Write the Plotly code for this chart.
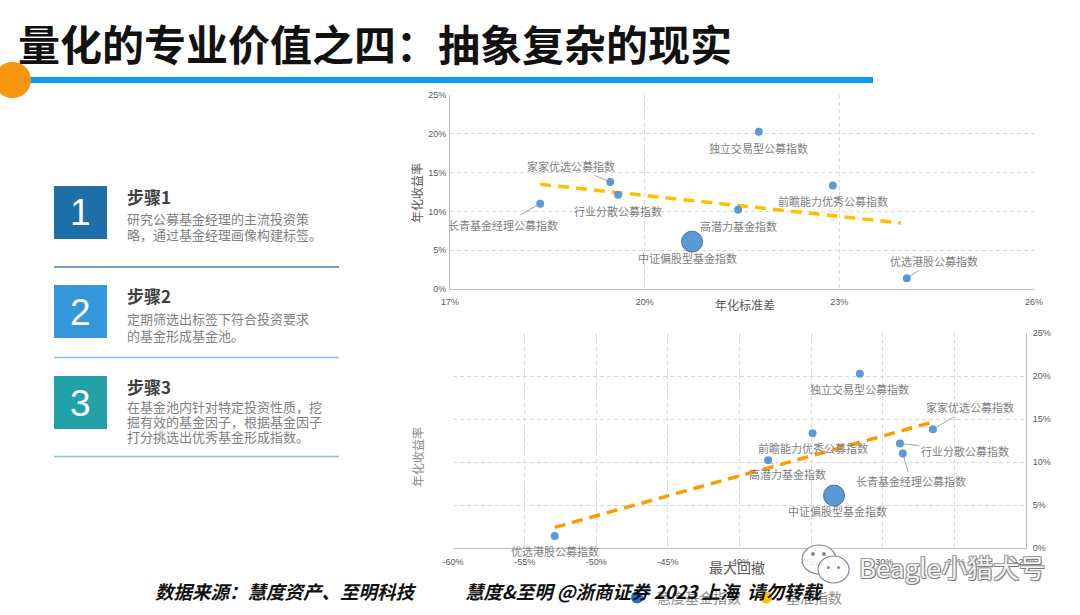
import plotly.graph_objects as go

# ---------------- data ----------------
index_names = ["长青基金经理公募指数", "家家优选公募指数", "行业分散公募指数", "独立交易型公募指数",
               "高潜力基金指数", "前瞻能力优秀公募指数", "优选港股公募指数"]
ann_std = [18.39, 19.47, 19.59, 21.76, 21.44, 22.90, 24.04]      # 年化标准差 (%)
ann_ret = [11.0, 13.8, 12.15, 20.25, 10.2, 13.35, 1.4]           # 年化收益率 (%)
max_dd = [-28.6, -26.5, -28.8, -31.6, -38.0, -34.9, -52.9]       # 最大回撤 (%)

bench_name = "中证偏股型基金指数"
bench_std = [20.73]
bench_ret = [6.1]
bench_dd = [-33.4]

trend_top_x = [18.39, 23.95]
trend_top_y = [13.5, 8.5]
trend_bot_x = [-52.9, -26.5]
trend_bot_y = [2.4, 14.65]

top_x_ticks = [17, 20, 23, 26]
ret_ticks = [0, 5, 10, 15, 20, 25]
dd_ticks = [-60, -55, -50, -45, -40, -35, -30, -25, -20]

legend_names = ["慧度基金指数", "基准指数"]

title_text = "量化的专业价值之四：抽象复杂的现实"
steps = [
    ("1", "步骤1", ["研究公募基金经理的主流投资策", "略，通过基金经理画像构建标签。"]),
    ("2", "步骤2", ["定期筛选出标签下符合投资要求", "的基金形成基金池。"]),
    ("3", "步骤3", ["在基金池内针对特定投资性质，挖", "掘有效的基金因子，根据基金因子", "打分挑选出优秀基金形成指数。"]),
]
footer_a = "数据来源：慧度资产、至明科技"
footer_b = "慧度&至明 @浙商证券 2023 上海  请勿转载"
watermark = "Beagle小猎犬号"

# ---------------- helpers ----------------
W, H = 1080, 615
def px(x): return x / W
def py(y): return 1 - y / H

CJK = "Noto Sans CJK SC"
LBL = "#7f7f7f"
PT = "#5B9BD5"

fig = go.Figure()

# top chart
fig.add_trace(go.Scatter(x=trend_top_x, y=trend_top_y, mode="lines", xaxis="x", yaxis="y",
                         line=dict(color="#FFC000", width=3.5, dash="11px,7px"), showlegend=False, hoverinfo="skip"))
fig.add_trace(go.Scatter(x=ann_std, y=ann_ret, mode="markers", xaxis="x", yaxis="y",
                         marker=dict(color=PT, size=8), showlegend=False, text=index_names))
fig.add_trace(go.Scatter(x=bench_std, y=bench_ret, mode="markers", xaxis="x", yaxis="y",
                         marker=dict(color=PT, size=21, line=dict(color="#41719C", width=1)),
                         showlegend=False, text=[bench_name]))
# bottom chart
fig.add_trace(go.Scatter(x=trend_bot_x, y=trend_bot_y, mode="lines", xaxis="x2", yaxis="y2",
                         line=dict(color="#FF9A00", width=3.5, dash="11px,7px"), showlegend=False, hoverinfo="skip"))
fig.add_trace(go.Scatter(x=max_dd, y=ann_ret, mode="markers", xaxis="x2", yaxis="y2",
                         marker=dict(color=PT, size=8), showlegend=False, text=index_names))
fig.add_trace(go.Scatter(x=bench_dd, y=bench_ret, mode="markers", xaxis="x2", yaxis="y2",
                         marker=dict(color=PT, size=21, line=dict(color="#41719C", width=1)),
                         showlegend=False, text=[bench_name]))
# legend entries
fig.add_trace(go.Scatter(x=[None], y=[None], mode="markers", xaxis="x2", yaxis="y2", name=legend_names[0],
                         marker=dict(color="#1F6FC5", size=12)))
fig.add_trace(go.Scatter(x=[None], y=[None], mode="markers", xaxis="x2", yaxis="y2", name=legend_names[1],
                         marker=dict(color="#FFC000", size=12)))

axis_common = dict(showgrid=True, gridcolor="#d9d9d9", griddash="4px,3px", gridwidth=1,
                   showline=True, linecolor="#bfbfbf", linewidth=1, zeroline=False, ticks="",
                   automargin=False,
                   tickfont=dict(family="Liberation Sans", size=9, color="#595959"))

fig.update_layout(
    template="none",
    width=W, height=H, margin=dict(l=0, r=0, t=0, b=0, autoexpand=False),
    paper_bgcolor="white", plot_bgcolor="white",
    xaxis=dict(domain=[px(450), px(1034)], range=[17, 26], anchor="y", ticklabelstandoff=4,
               tickvals=top_x_ticks, ticktext=[f"{v}%" for v in top_x_ticks], **axis_common),
    yaxis=dict(domain=[py(289), py(95)], range=[0, 25], anchor="x", ticklabelstandoff=1,
               tickvals=ret_ticks, ticktext=[f"{v}%" for v in ret_ticks], **axis_common),
    xaxis2=dict(domain=[px(453), px(1026)], range=[-60, -20], anchor="y2", ticklabelstandoff=5,
                tickvals=dd_ticks, ticktext=[f"{v}%" for v in dd_ticks], **axis_common),
    yaxis2=dict(domain=[py(548), py(333)], range=[0, 25], anchor="x2", side="right", ticklabelstandoff=4,
                tickvals=ret_ticks, ticktext=[f"{v}%" for v in ret_ticks], **axis_common),
    legend=dict(orientation="h", x=px(617), y=py(598), xanchor="left", yanchor="middle",
                font=dict(family=CJK, size=14, color="#8c8c8c"), bgcolor="rgba(0,0,0,0)",
                itemwidth=30),
    showlegend=True,
)

anns = []
# point labels: (dx, dy) screen offsets of label center from point, arrow flag
top_lbl = {
    "长青基金经理公募指数": (-37, 21, True),
    "家家优选公募指数": (-39, -16, True),
    "行业分散公募指数": (0, 16, False),
    "独立交易型公募指数": (0, 16, False),
    "高潜力基金指数": (0, 16, False),
    "前瞻能力优秀公募指数": (0, 16, False),
    "优选港股公募指数": (27, -17, True),
    bench_name: (-5, 16, False),
}
bot_lbl = {
    "长青基金经理公募指数": (8, 28, True),
    "家家优选公募指数": (37, -22, True),
    "行业分散公募指数": (65, 7, True),
    "独立交易型公募指数": (0, 15, False),
    "高潜力基金指数": (19, 14, True),
    "前瞻能力优秀公募指数": (0, 15, False),
    "优选港股公募指数": (0, 15, False),
    bench_name: (3, 15, False),
}

def add_labels(names, xs, ys, offsets, xr, yr):
    for n, x, y in zip(names, xs, ys):
        dx, dy, arrow = offsets[n]
        base = dict(x=x, y=y, xref=xr, yref=yr, text=n, xanchor="center", yanchor="middle",
                    font=dict(family=CJK, size=11, color=LBL))
        if arrow:
            base.update(showarrow=True, arrowhead=0, arrowwidth=1, arrowcolor="#a6a6a6",
                        ax=dx, ay=dy, standoff=4)
        else:
            base.update(showarrow=False, xshift=dx, yshift=-dy)
        anns.append(base)

add_labels(index_names + [bench_name], ann_std + bench_std, ann_ret + bench_ret, top_lbl, "x", "y")
add_labels(index_names + [bench_name], max_dd + bench_dd, ann_ret + bench_ret, bot_lbl, "x2", "y2")

def note(x, y, text, size, color, xanchor="center", angle=0, family=CJK, shadow=None):
    f = dict(family=family, size=size, color=color)
    if shadow:
        f["shadow"] = shadow
    anns.append(dict(x=px(x), y=py(y), xref="paper", yref="paper", text=text, showarrow=False,
                     xanchor=xanchor, yanchor="middle", textangle=angle, font=f))

# axis titles
note(416, 193, "年化收益率", 12, "#595959", angle=-90)
note(745, 305, "年化标准差", 12, "#595959")
note(417, 457, "年化收益率", 12, "#8c8c8c", angle=-90)
note(737, 567, "最大回撤", 14, "#595959")

# title
note(16, 42, f"<b>{title_text}</b>", 42, "#111111", xanchor="left")

shapes = [
    dict(type="rect", xref="paper", yref="paper", x0=px(20), x1=px(873), y0=py(83), y1=py(77),
         fillcolor="#0A9CF5", line=dict(width=0)),
    dict(type="circle", xref="paper", yref="paper", x0=px(-6), x1=px(31), y0=py(98), y1=py(62),
         fillcolor="#F8950F", line=dict(width=0)),
]

box_tops = [186, 285, 376]
box_colors = ["#1E6EA7", "#3597DB", "#22A2A8"]
sep_y = [267, 357.5, 456.5]
sep_colors = ["#4A7DAA", "#8DBDE0", "#8DBDE0"]
desc_y = [[218, 235], [318, 335], [406, 421, 436]]
for i, (num, head, lines) in enumerate(steps):
    t = box_tops[i]
    shapes.append(dict(type="rect", xref="paper", yref="paper", x0=px(54), x1=px(107), y0=py(t + 53), y1=py(t),
                       fillcolor=box_colors[i], line=dict(width=0)))
    shapes.append(dict(type="line", xref="paper", yref="paper", x0=px(54), x1=px(339), y0=py(sep_y[i]), y1=py(sep_y[i]),
                       line=dict(color=sep_colors[i], width=1.5)))
    note(80.5, t + 27, num, 37, "white", family="Liberation Sans")
    note(125, t + 10, f"<b>{head}</b>", 17, "#404040", xanchor="left")
    for ln, yy in zip(lines, desc_y[i]):
        note(125, yy, ln, 13, "#7f7f7f", xanchor="left")

# watermark icon
shapes += [
    dict(type="circle", xref="paper", yref="paper", x0=px(802), x1=px(836), y0=py(574), y1=py(545),
         fillcolor="rgba(255,255,255,0.85)", line=dict(color="#8a8a8a", width=1.2)),
    dict(type="circle", xref="paper", yref="paper", x0=px(818), x1=px(849), y0=py(583), y1=py(556),
         fillcolor="rgba(255,255,255,0.9)", line=dict(color="#8a8a8a", width=1.2)),
    dict(type="circle", xref="paper", yref="paper", x0=px(811), x1=px(815), y0=py(556), y1=py(552),
         fillcolor="#8a8a8a", line=dict(width=0)),
    dict(type="circle", xref="paper", yref="paper", x0=px(822), x1=px(826), y0=py(556), y1=py(552),
         fillcolor="#8a8a8a", line=dict(width=0)),
    dict(type="circle", xref="paper", yref="paper", x0=px(827), x1=px(830), y0=py(569), y1=py(566),
         fillcolor="#8a8a8a", line=dict(width=0)),
    dict(type="circle", xref="paper", yref="paper", x0=px(837), x1=px(840), y0=py(569), y1=py(566),
         fillcolor="#8a8a8a", line=dict(width=0)),
]
note(857, 566, watermark, 26, "#f2f2f2", xanchor="left",
     shadow="1px 1px 0 #7a7a7a, -1px -1px 0 #9a9a9a, 1px -1px 0 #9a9a9a, -1px 1px 0 #9a9a9a")

# footer
note(153, 591, f"<b><i>{footer_a}</i></b>", 18.5, "#111111", xanchor="left")
note(463, 591, f"<b><i>{footer_b}</i></b>", 18.5, "#111111", xanchor="left")

fig.update_layout(annotations=anns, shapes=shapes)
fig.write_html("out.html", config={"displayModeBar": False},
               post_script="document.body.style.margin='0';document.body.style.padding='0';")
